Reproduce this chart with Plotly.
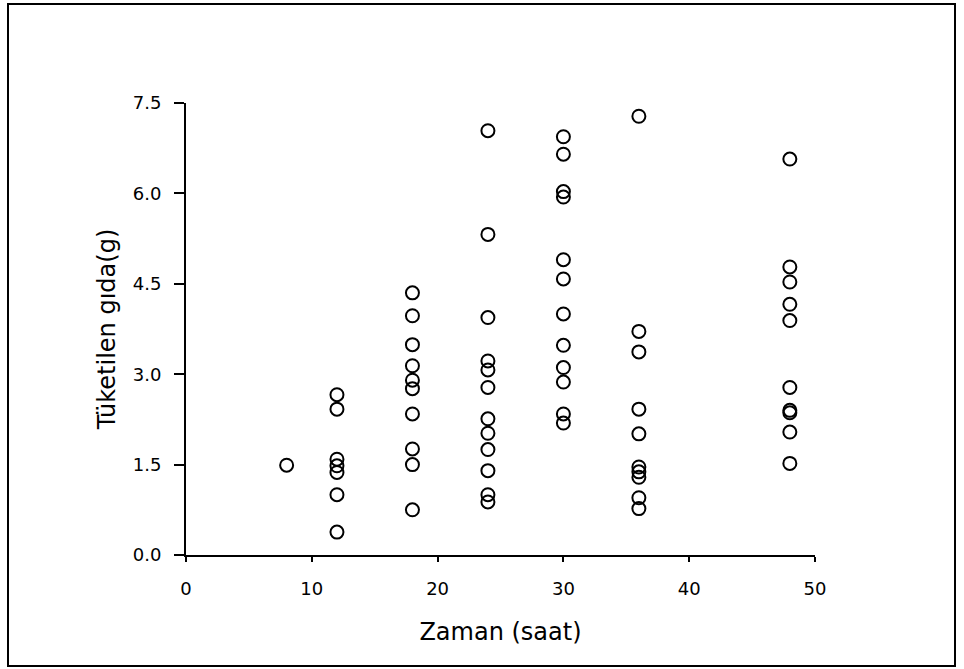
import plotly.graph_objects as go

# Data (time in hours, food consumed in g)
x8 = [8]
y8 = [1.49]
x12 = [12] * 7
y12 = [2.66, 2.42, 1.59, 1.48, 1.37, 1.00, 0.38]
x18 = [18] * 10
y18 = [4.35, 3.97, 3.49, 3.14, 2.90, 2.76, 2.34, 1.76, 1.50, 0.75]
x24 = [24] * 12
y24 = [7.04, 5.32, 3.94, 3.22, 3.07, 2.78, 2.26, 2.02, 1.75, 1.40, 1.00, 0.88]
x30 = [30] * 12
y30 = [6.94, 6.65, 6.03, 5.94, 4.90, 4.58, 4.00, 3.48, 3.11, 2.87, 2.34, 2.19]
x36 = [36] * 10
y36 = [7.28, 3.71, 3.37, 2.42, 2.01, 1.46, 1.38, 1.29, 0.95, 0.77]
x48 = [48] * 10
y48 = [6.57, 4.78, 4.53, 4.16, 3.89, 2.78, 2.40, 2.36, 2.04, 1.52]

xs = x8 + x12 + x18 + x24 + x30 + x36 + x48
ys = y8 + y12 + y18 + y24 + y30 + y36 + y48

x_ticks = [0, 10, 20, 30, 40, 50]
y_ticks = [0.0, 1.5, 3.0, 4.5, 6.0, 7.5]

W, H = 964, 669
L, R, T, B = 186, 815, 103, 555

fig = go.Figure()
fig.add_trace(go.Scatter(
    x=xs, y=ys, mode="markers",
    marker=dict(symbol="circle-open", size=13, color="black", line=dict(width=2, color="black")),
    cliponaxis=False, showlegend=False,
))

font = dict(family="DejaVu Sans, Verdana, sans-serif", color="black")

fig.update_layout(
    width=W, height=H,
    margin=dict(l=L, r=W - R, t=T, b=H - B, pad=0),
    paper_bgcolor="white", plot_bgcolor="white",
    font=font,
    xaxis=dict(
        range=[0, 50], tickvals=x_ticks, ticktext=[str(v) for v in x_ticks],
        showgrid=False, zeroline=False, showline=True, linecolor="black", linewidth=2,
        ticks="outside", ticklen=5, tickwidth=1.5, tickcolor="black",
        tickfont=dict(size=18, **font), ticklabelstandoff=11,
        title=dict(text="Zaman (saat)", font=dict(size=24, **font), standoff=26),
    ),
    yaxis=dict(
        range=[0, 7.5], tickvals=y_ticks, ticktext=[f"{v:.1f}" for v in y_ticks],
        showgrid=False, zeroline=False, showline=True, linecolor="black", linewidth=2,
        ticks="outside", ticklen=10, tickwidth=1.5, tickcolor="black",
        tickfont=dict(size=18, **font), ticklabelstandoff=9,
        title=dict(text="Tüketilen gıda(g)", font=dict(size=24, **font), standoff=10),
    ),
)

pw, ph = R - L, B - T
def px(v):
    return (v - L) / pw
def py(v):
    return (B - v) / ph

fig.add_shape(type="rect", xref="paper", yref="paper",
              x0=px(8), x1=px(955), y0=py(666), y1=py(4),
              line=dict(color="black", width=2), fillcolor="rgba(0,0,0,0)", layer="below")

fig.write_html("out.html")
